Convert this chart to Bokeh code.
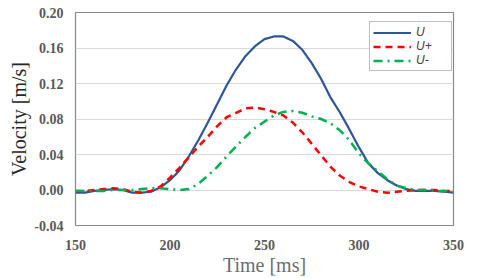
from bokeh.plotting import figure
from bokeh.models import FixedTicker, NumeralTickFormatter, Range1d, Legend, LegendItem
from bokeh.embed import file_html
from bokeh.resources import INLINE

time_ms = [150, 155, 160, 165, 170, 175, 180, 185, 190, 195, 200, 205, 210, 215, 220,
           225, 230, 235, 240, 245, 250, 255, 260, 265, 270, 275, 280, 285, 290, 295,
           300, 305, 310, 315, 320, 325, 330, 335, 340, 345, 350]

u_total = [-0.003, -0.003, -0.001, 0.000, 0.001, 0.000, -0.003, -0.003, -0.002, 0.003, 0.011,
           0.022, 0.038, 0.056, 0.076, 0.097, 0.118, 0.136, 0.151, 0.162, 0.170, 0.173, 0.173,
           0.168, 0.158, 0.143, 0.125, 0.104, 0.087, 0.068, 0.048, 0.030, 0.019, 0.011, 0.005,
           0.001, -0.001, -0.001, -0.001, -0.002, -0.003]

u_plus = [-0.001, -0.001, 0.000, 0.001, 0.002, 0.001, -0.002, -0.003, -0.001, 0.004, 0.014,
          0.025, 0.037, 0.049, 0.060, 0.072, 0.082, 0.087, 0.092, 0.093, 0.091, 0.088, 0.084,
          0.076, 0.065, 0.052, 0.039, 0.026, 0.016, 0.009, 0.004, 0.001, -0.002, -0.003, -0.002,
          -0.001, 0.000, 0.000, 0.000, -0.001, -0.001]

u_minus = [-0.001, -0.001, -0.001, -0.001, 0.000, 0.000, 0.000, 0.001, 0.002, 0.002, 0.001,
           0.000, 0.001, 0.007, 0.016, 0.026, 0.038, 0.049, 0.060, 0.070, 0.077, 0.084, 0.088,
           0.089, 0.087, 0.083, 0.080, 0.075, 0.067, 0.056, 0.041, 0.030, 0.021, 0.012, 0.005,
           0.002, 0.000, 0.000, -0.001, -0.001, -0.002]

x_ticks = [150, 200, 250, 300, 350]
y_ticks = [-0.04, 0.00, 0.04, 0.08, 0.12, 0.16, 0.20]

p = figure(width=480, height=278, output_backend="svg", toolbar_location=None,
           x_range=Range1d(150, 350), y_range=Range1d(-0.04, 0.20),
           min_border_left=75, min_border_right=27, min_border_top=12, min_border_bottom=10)

p.background_fill_color = "white"
p.border_fill_color = "white"
p.outline_line_color = "#898989"
p.outline_line_width = 1.2

p.xgrid.visible = False
p.ygrid.grid_line_color = "#d9d9d9"
p.ygrid.grid_line_width = 1

for ax in (p.xaxis[0], p.yaxis[0]):
    ax.axis_line_color = None
    ax.major_tick_line_color = None
    ax.minor_tick_line_color = None
    ax.major_label_text_font = "Liberation Serif"
    ax.major_label_text_font_style = "bold"
    ax.major_label_text_font_size = "14px"
    ax.major_label_text_color = "#595959"
    ax.axis_label_text_font = "Liberation Serif"
    ax.axis_label_text_font_style = "normal"

p.xaxis.ticker = FixedTicker(ticks=x_ticks)
p.yaxis.ticker = FixedTicker(ticks=y_ticks)
p.yaxis.formatter = NumeralTickFormatter(format="0.00")

p.xaxis.axis_label = "Time [ms]"
p.xaxis.axis_label_text_font_size = "20px"
p.xaxis.axis_label_text_color = "#6e6e6e"
p.xaxis.major_label_standoff = 8
p.xaxis.axis_label_standoff = 1

p.yaxis.axis_label = "Velocity [m/s]"
p.yaxis.axis_label_text_font_size = "20px"
p.yaxis.axis_label_text_color = "#262626"
p.yaxis.major_label_standoff = 6
p.yaxis.axis_label_standoff = 1

r_u = p.line(time_ms, u_total, line_color="#2f5597", line_width=2.2)
r_p = p.line(time_ms, u_plus, line_color="#ff0000", line_width=2.5, line_dash="7 5")
r_m = p.line(time_ms, u_minus, line_color="#00b050", line_width=2.5, line_dash="9 5 2 5")

legend = Legend(items=[LegendItem(label="U", renderers=[r_u]),
                       LegendItem(label="U+", renderers=[r_p]),
                       LegendItem(label="U-", renderers=[r_m])],
                location=(294, 154))
legend.glyph_width = 38
legend.glyph_height = 13
legend.label_height = 13
legend.label_text_font = "Liberation Sans"
legend.label_text_font_style = "italic"
legend.label_text_font_size = "12px"
legend.label_text_color = "#404040"
legend.label_standoff = 5
legend.label_width = 32
legend.spacing = 0
legend.padding = 3
legend.margin = 0
legend.border_line_color = "#808080"
legend.border_line_width = 1.5
legend.background_fill_color = "white"
legend.background_fill_alpha = 1.0
p.add_layout(legend, "center")

open("out.html", "w").write(file_html(p, INLINE))
